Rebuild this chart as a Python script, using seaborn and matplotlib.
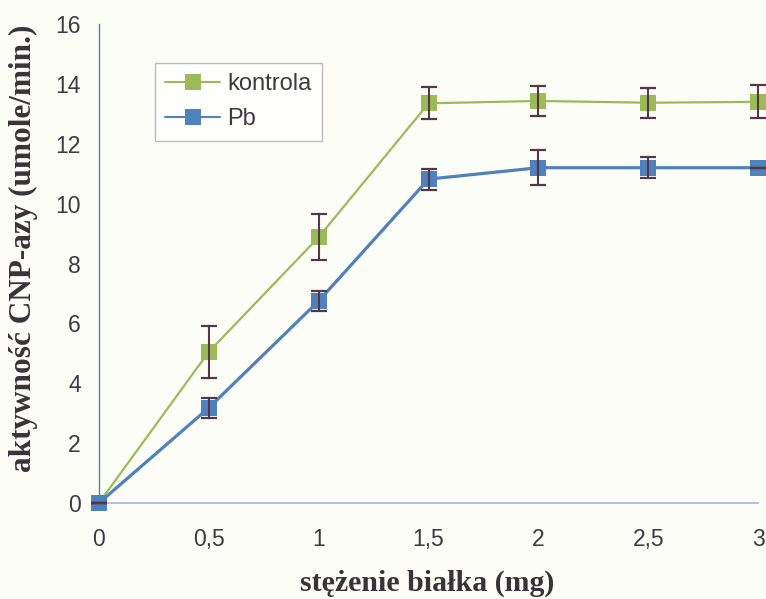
import matplotlib
matplotlib.use("Agg")
import matplotlib.pyplot as plt
import seaborn as sns
import pandas as pd

# protein amount (mg) and CNPase activity for the two groups
bialko = [0, 0.5, 1, 1.5, 2, 2.5, 3]
kontrola = [0, 5.05, 8.88, 13.35, 13.43, 13.37, 13.40]
kontrola_sd = [0, 0.87, 0.77, 0.53, 0.50, 0.50, 0.55]
pb = [0, 3.18, 6.75, 10.82, 11.20, 11.20, 11.20]
pb_sd = [0, 0.33, 0.33, 0.35, 0.58, 0.35, 0.0]

x_ticks = [0, 0.5, 1, 1.5, 2, 2.5, 3]
x_ticklabels = ["0", "0,5", "1", "1,5", "2", "2,5", "3"]
y_ticks = [0, 2, 4, 6, 8, 10, 12, 14, 16]

df = pd.DataFrame({
    "bialko": bialko * 2,
    "aktywnosc": kontrola + pb,
    "grupa": ["kontrola"] * len(bialko) + ["Pb"] * len(bialko),
})

sns.set_style("white")
plt.rcParams["font.family"] = ["Liberation Sans", "DejaVu Sans"]

bg = "#fdfdf8"
fig = plt.figure(figsize=(7.66, 5.99), dpi=100, facecolor=bg)
ax = fig.add_axes([0.129, 0.160, 0.861, 0.800])
ax.set_facecolor(bg)

palette = {"kontrola": "#9bbb59", "Pb": "#4f81bd"}
sns.lineplot(data=df, x="bialko", y="aktywnosc", hue="grupa", style="grupa",
             palette=palette, markers={"kontrola": "s", "Pb": "s"},
             dashes=False, markersize=11, markeredgewidth=0, ax=ax,
             legend=True, clip_on=False, zorder=3)
for line, lw in zip(ax.lines, [1.6, 2.3]):
    line.set_linewidth(lw)

ecol = "#563646"
for vals, sd in [(kontrola, kontrola_sd), (pb, pb_sd)]:
    ax.errorbar(bialko, vals, yerr=sd, fmt="none", ecolor=ecol,
                elinewidth=1.5, capsize=5.8, capthick=1.6, zorder=4, clip_on=False)

ax.set_xlim(0, 3)
ax.set_ylim(0, 16)
ax.set_xticks(x_ticks)
ax.set_xticklabels(x_ticklabels)
ax.set_yticks(y_ticks)
ax.tick_params(axis="both", labelsize=16.5, colors="#a0a0a8", labelcolor="#3d3a40",
               length=5, width=1)
ax.tick_params(axis="x", direction="in", pad=18)
ax.tick_params(axis="y", direction="out", pad=8)

for side in ["top", "right"]:
    ax.spines[side].set_visible(False)
ax.spines["left"].set_color("#5a78c0")
ax.spines["left"].set_linewidth(1.0)
ax.spines["bottom"].set_color("#a9b4d0")
ax.spines["bottom"].set_linewidth(1.2)

serif = ["Liberation Serif", "DejaVu Serif"]
ax.set_xlabel("stężenie białka (mg)", family=serif, fontsize=21.5,
              fontweight="bold", color="#3a3238")
ax.set_ylabel("aktywność CNP-azy (umole/min.)", family=serif, fontsize=22.5,
              fontweight="bold", color="#3a3238")
ax.xaxis.set_label_coords(0.498, -0.138)
ax.yaxis.set_label_coords(-0.092, 0.531)

leg = ax.legend(loc="upper left", bbox_to_anchor=(0.085, 0.919), fontsize=17,
                frameon=True, fancybox=False, edgecolor="#b0a8b0",
                handlelength=2.3, handletextpad=0.3, borderpad=0.45,
                labelspacing=0.55, borderaxespad=0)
leg.get_frame().set_linewidth(1.0)
leg.get_frame().set_facecolor("#ffffff")
for t in leg.get_texts():
    t.set_color("#3d3a40")

fig.savefig("out.png", dpi=100, facecolor=bg)
